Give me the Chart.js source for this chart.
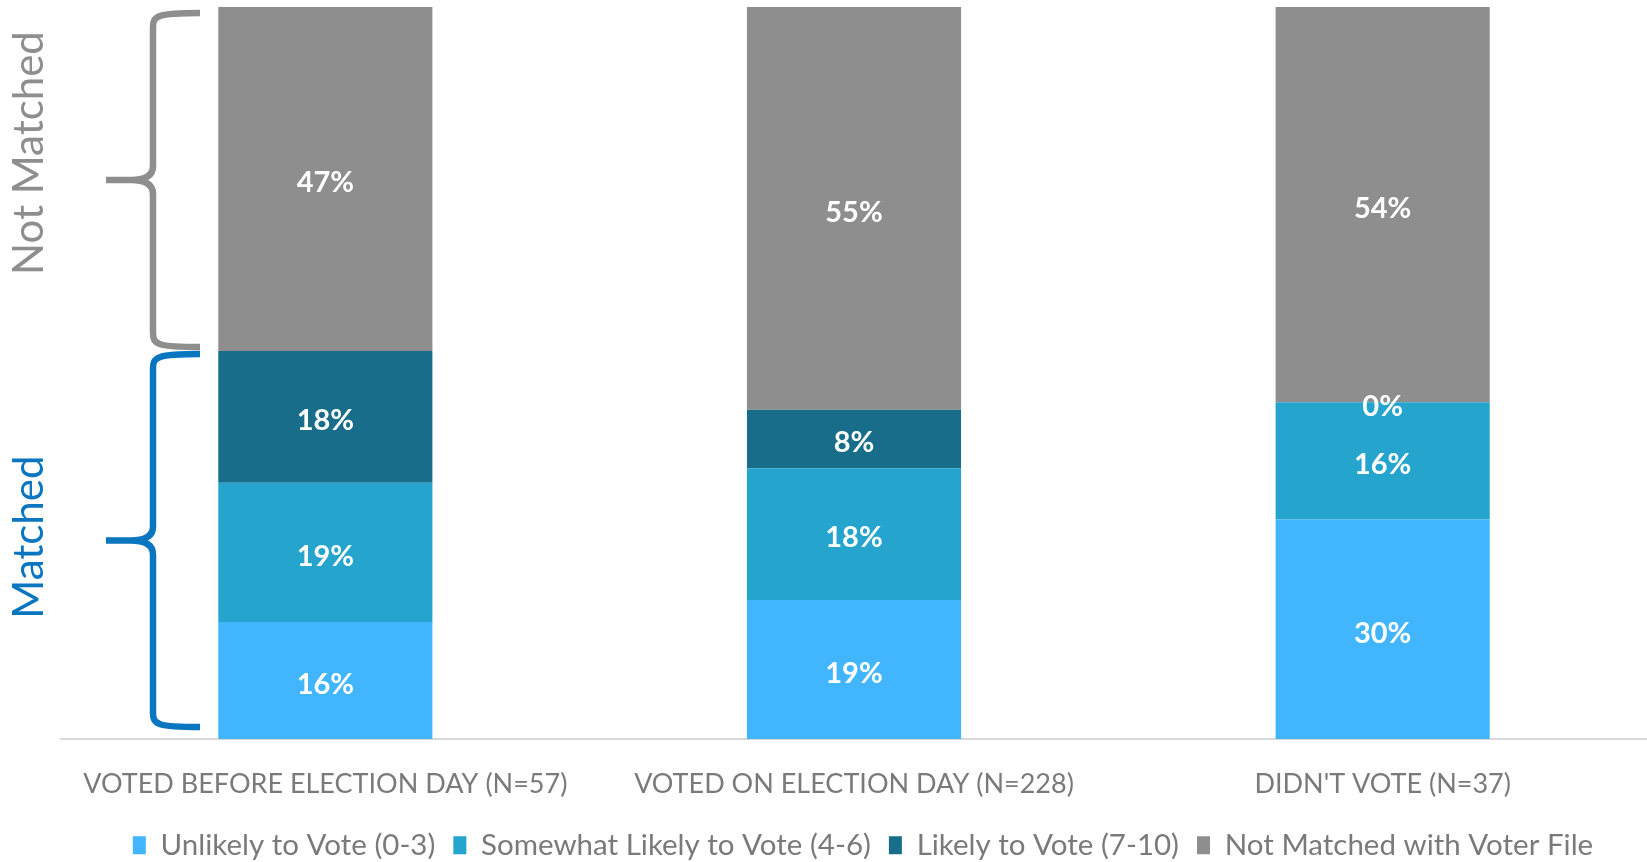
<!DOCTYPE html>
<html>
<head>
<meta charset="utf-8">
<script src="https://cdn.jsdelivr.net/npm/chart.js@4/dist/chart.umd.min.js"></script>
<style>
  html, body { margin:0; padding:0; background:#fff; }
  #wrap { width:1647px; height:862px; }
</style>
</head>
<body>
<div id="wrap"><canvas id="chart"></canvas></div>
<script>
const groups = ['VOTED BEFORE ELECTION DAY (N=57)', 'VOTED ON ELECTION DAY (N=228)', "DIDN'T VOTE (N=37)"];
const unlikely = [16, 19, 30];
const somewhat = [19, 18, 16];
const likely = [18, 8, 0];
const notMatched = [47, 55, 54];

const FONT = 'Lato, "Open Sans", sans-serif';
const GREY_TXT = '#7a7a7a';

// white % labels in the middle of every segment
const segLabels = {
  id:'segLabels',
  afterDatasetsDraw(chart){
    const {ctx} = chart;
    ctx.save();
    ctx.fillStyle = '#fff';
    ctx.font = 'bold 29px ' + FONT;
    ctx.textAlign = 'center';
    ctx.textBaseline = 'middle';
    chart.data.datasets.forEach((ds, i) => {
      chart.getDatasetMeta(i).data.forEach((bar, j) => {
        const {x, y, base} = bar.getProps(['x','y','base'], true);
        ctx.fillText(ds.data[j] + '%', x, (y + base) / 2 + 4);
      });
    });
    ctx.restore();
  }
};

function brace(ctx, yTop, yBot, color){
  const xEnd = 200, xSpine = 153, xTip = 106, r = 14;
  const yMid = (yTop + yBot) / 2;
  ctx.beginPath();
  ctx.moveTo(xEnd, yTop);
  ctx.bezierCurveTo(xSpine + 4, yTop, xSpine, yTop + 3, xSpine, yTop + r);
  ctx.lineTo(xSpine, yMid - r);
  ctx.quadraticCurveTo(xSpine, yMid, xSpine - 22, yMid);
  ctx.lineTo(xTip, yMid);
  ctx.moveTo(xSpine - 22, yMid);
  ctx.quadraticCurveTo(xSpine, yMid, xSpine, yMid + r);
  ctx.lineTo(xSpine, yBot - r);
  ctx.bezierCurveTo(xSpine, yBot - 3, xSpine + 4, yBot, xEnd, yBot);
  ctx.strokeStyle = color;
  ctx.lineWidth = 6.5;
  ctx.lineCap = 'butt';
  ctx.lineJoin = 'round';
  ctx.stroke();
}

function sideText(ctx, text, yMid, color){
  ctx.save();
  ctx.translate(43, yMid);
  ctx.rotate(-Math.PI / 2);
  ctx.font = '42px ' + FONT;
  ctx.fillStyle = color;
  ctx.textAlign = 'center';
  ctx.textBaseline = 'alphabetic';
  ctx.fillText(text, 0, 0);
  ctx.restore();
}

// braces on the left, sized from the first column's matched share
const braces = {
  id:'braces',
  afterLayout(chart){
    // nudge the legend row a little to the right
    chart.legend.left += 18;
  },
  afterDraw(chart){
    const {ctx} = chart;
    const ys = chart.scales.y;
    const matched = unlikely[0] + somewhat[0] + likely[0];
    const yTop = ys.getPixelForValue(100), yCut = ys.getPixelForValue(matched), yBase = ys.getPixelForValue(0);
    ctx.save();
    brace(ctx, yTop + 6, yCut - 4, '#8e8e8e');
    brace(ctx, yCut + 3, yBase - 12, '#0b76c0');
    sideText(ctx, 'Not Matched', (yTop + yCut) / 2 - 26, '#8e8e8e');
    sideText(ctx, 'Matched', (yCut + yBase) / 2 - 8, '#0b76c0');
    ctx.restore();
  }
};

new Chart(document.getElementById('chart'), {
  type:'bar',
  data:{
    labels: groups,
    datasets:[
      { label:'Unlikely to Vote (0-3)', data: unlikely, backgroundColor:'#41b6fe' },
      { label:'Somewhat Likely to Vote (4-6)', data: somewhat, backgroundColor:'#25a4ce' },
      { label:'Likely to Vote (7-10)', data: likely, backgroundColor:'#186e8a' },
      { label:'Not Matched with Voter File', data: notMatched, backgroundColor:'#8e8e8e' }
    ]
  },
  options:{
    responsive:true,
    maintainAspectRatio:false,
    animation:false,
    datasets:{ bar:{ categoryPercentage:1, barPercentage:0.405, borderWidth:0 } },
    layout:{ padding:{ left:61, top:7, right:0, bottom:-8 } },
    scales:{
      x:{
        stacked:true,
        grid:{ display:false, drawTicks:false },
        border:{ display:true, color:'#d9d9d9', width:2 },
        ticks:{ color:GREY_TXT, font:{ family:FONT, size:27 }, padding:29, maxRotation:0 },
        // axis box is padded twice by default, trim it so the bars reach lower
        afterFit: s => { s.height -= 17; }
      },
      y:{ stacked:true, display:false, min:0, max:100 }
    },
    plugins:{
      legend:{
        position:'bottom',
        labels:{ color:GREY_TXT, font:{ family:FONT, size:29.5 }, boxWidth:13, boxHeight:18, padding:18 }
      },
      tooltip:{ enabled:false }
    }
  },
  plugins:[segLabels, braces]
});
</script>
</body>
</html>
